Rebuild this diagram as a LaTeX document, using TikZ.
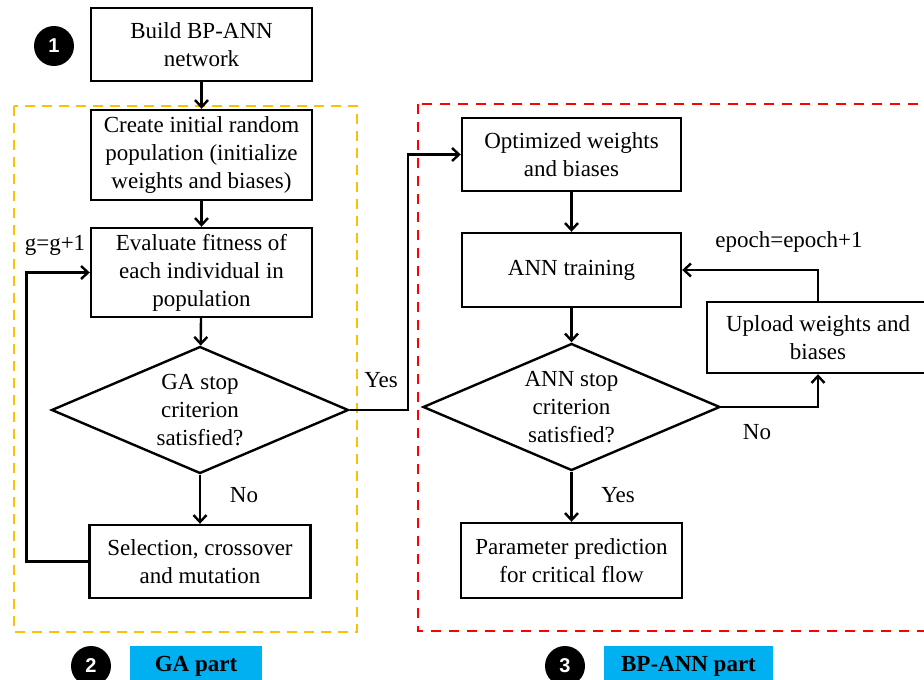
\documentclass[tikz,border=0pt]{standalone}
\usepackage{fontspec}
\setmainfont{Liberation Serif}
\newfontfamily\numfont{Liberation Sans}
\usetikzlibrary{shapes.geometric,arrows.meta}
\definecolor{gaorange}{HTML}{FFC000}
\definecolor{annred}{HTML}{FF0000}
\definecolor{partblue}{HTML}{00B0F0}
\begin{document}
\begin{tikzpicture}[>={Straight Barb[length=7pt,width=13pt]},x=1pt,y=-1pt,
	every node/.style={font=\fontsize{23}{28}\selectfont},
	box/.style={draw,line width=2.4pt,align=center,minimum width=221pt,inner sep=0pt},
	test/.style={draw,diamond,aspect=2.35,line width=2.4pt,align=center,inner sep=0pt,minimum width=297pt,minimum height=127pt},
	num/.style={circle,fill=black,text=white,minimum size=40pt,inner sep=0pt,font=\numfont\bfseries\fontsize{20}{20}\selectfont},
	part/.style={fill=partblue,minimum height=40pt,inner sep=0pt,font=\bfseries\fontsize{23}{28}\selectfont},
	flow/.style={line width=2.4pt,->}]
	\useasboundingbox (0,0) rectangle (924,680);
	\clip (0,0) rectangle (924,680);
	% dashed frames of the two parts
	\draw[gaorange,line width=2.6pt,dash pattern=on 10pt off 7pt] (14,106) rectangle (357,632);
	\draw[annred,line width=2.6pt,dash pattern=on 10pt off 8pt] (418,104) rectangle (960,631);
	% GA part
	\node[num] (n1) at (54,46) {1};
	\node[box,minimum height=73pt] (build) at (201.5,44.5) {Build BP-ANN\\network};
	\node[box,minimum height=90pt] (init) at (201.5,155) {Create initial random\\population (initialize\\weights and biases)};
	\node[box,minimum height=89pt] (fit) at (201.5,272.5) {Evaluate fitness of\\each individual in\\population};
	\node[test] (gastop) at (200,410) {GA stop\\criterion\\satisfied?};
	\node[box,minimum height=73pt] (select) at (200,561.5) {Selection, crossover\\and mutation};
	% BP-ANN part
	\node[box,minimum width=219pt,minimum height=73pt] (optim) at (571.5,154.5) {Optimized weights\\and biases};
	\node[box,minimum width=219pt,minimum height=74pt] (train) at (571.5,270) {ANN training};
	\node[test] (annstop) at (571.5,407) {ANN stop\\criterion\\satisfied?};
	\node[box,minimum width=222pt,minimum height=71pt] (upload) at (818,337.5) {Upload weights and\\biases};
	\node[box,minimum height=75pt] (predict) at (571.5,560.5) {Parameter prediction\\for critical flow};
	% labels
	\node (gcount) at (55,245) {g=g+1};
	\node (yesga) at (381,380) {Yes};
	\node (noga) at (244,495) {No};
	\node (epoch) at (789,242) {epoch=epoch+1};
	\node (noann) at (757,432) {No};
	\node (yesann) at (618,495) {Yes};
	% connectors
	\draw[flow] (build) -- (init);
	\draw[flow] (init) -- (fit);
	\draw[flow] (fit) -- (gastop);
	\draw[flow] (gastop) -- (select);
	\draw[flow] (select.west) -- ++(-62,0) |- (fit.west);
	\draw[flow] (gastop.east) -- ++(58,0) |- (optim.west);
	\draw[flow] (optim) -- (train);
	\draw[flow] (train) -- (annstop);
	\draw[flow] (annstop) -- (predict);
	\draw[flow] (annstop.east) -| (upload.south);
	\draw[flow] (upload.north) |- (train.east);
	% legend
	\node[num] (n2) at (91,666) {2};
	\node[part,minimum width=132pt] (gapart) at (196,666) {GA part};
	\node[num] (n3) at (565,666) {3};
	\node[part,minimum width=169pt] (annpart) at (688.5,666) {BP-ANN part};
\end{tikzpicture}
\end{document}
